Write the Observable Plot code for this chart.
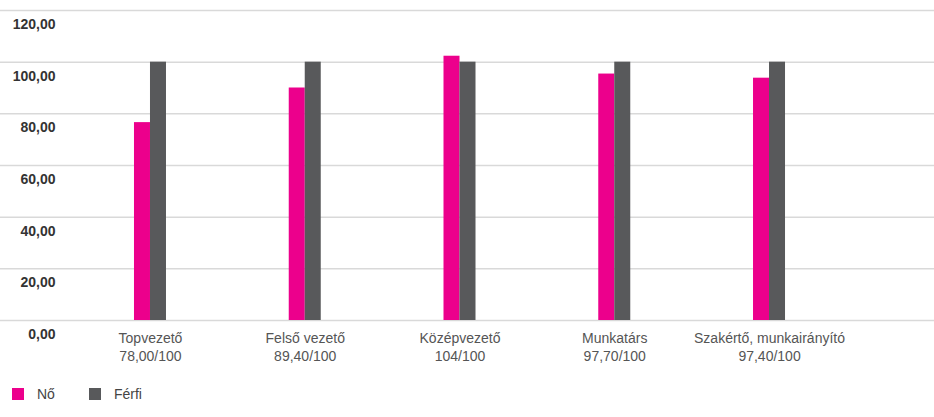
<!DOCTYPE html>
<html>
<head>
<meta charset="utf-8">
<script src="https://cdn.jsdelivr.net/npm/d3@7"></script>
<script src="https://cdn.jsdelivr.net/npm/@observablehq/plot@0.6"></script>
<style>
  html, body { margin: 0; padding: 0; background: #fff; }
  body { width: 934px; height: 417px; overflow: hidden; font-family: "Liberation Sans", Arial, sans-serif; }
  #legend { display: flex; align-items: center; height: 20px; margin-top: 12px; font-size: 14px; color: #444; }
  .sw { display: inline-block; width: 12px; height: 12px; }
  .item { display: flex; align-items: center; }
</style>
</head>
<body>
<div id="chart"></div>
<div id="legend"></div>
<script>
const categories = ["Topvezető", "Felső vezető", "Középvezető", "Munkatárs", "Szakértő, munkairányító"];
const ratioLabels = ["78,00/100", "89,40/100", "104/100", "97,70/100", "97,40/100"];
const noValues = [76.6, 90.0, 102.3, 95.4, 93.8];
const ferfiValues = [100, 100, 100, 100, 100];
const yTicks = [0, 20, 40, 60, 80, 100, 120];
const yTickLabels = ["0,00", "20,00", "40,00", "60,00", "80,00", "100,00", "120,00"];
const seriesNames = ["Nő", "Férfi"];
const seriesColors = ["#EC008C", "#58595B"];

const noData = categories.map((c, i) => ({cat: c, value: noValues[i]}));
const ferfiData = categories.map((c, i) => ({cat: c, value: ferfiValues[i]}));
const labelData = categories.map((c, i) => ({cat: c, text: c + "\n" + ratioLabels[i]}));
const tickData = yTicks.map((t, i) => ({v: t, label: yTickLabels[i]}));

const chart = Plot.plot({
  width: 934,
  height: 372,
  marginTop: 10,
  marginBottom: 52,
  marginLeft: 0,
  marginRight: 0,
  style: {fontFamily: "'Liberation Sans', Arial, sans-serif", background: "#fff"},
  x: {type: "band", domain: categories, range: [72.6, 846.4], paddingInner: 0.8966, paddingOuter: 0.4483, align: 0.5, round: false, axis: null},
  y: {domain: [0, 120], axis: null},
  marks: [
    Plot.ruleY(yTicks, {stroke: "#d9d9d9", strokeWidth: 1.5}),
    Plot.barY(noData, {x: "cat", y: "value", fill: seriesColors[0], dx: -8}),
    Plot.barY(ferfiData, {x: "cat", y: "value", fill: seriesColors[1], dx: 8}),
    Plot.text(tickData, {y: "v", text: "label", frameAnchor: "left", dx: 55, dy: 14, textAnchor: "end", fontSize: 14, fontWeight: "bold", fill: "#333"}),
    Plot.text(labelData, {x: "cat", text: "text", frameAnchor: "bottom", dy: 10, lineAnchor: "top", lineHeight: 1.28, fontSize: 14, fill: "#555", textAnchor: "middle"})
  ]
});
document.getElementById("chart").appendChild(chart);

const legend = document.getElementById("legend");
seriesNames.forEach((name, i) => {
  const item = document.createElement("span");
  item.className = "item";
  item.style.marginLeft = i === 0 ? "12px" : "34px";
  const sw = document.createElement("span");
  sw.className = "sw";
  sw.style.background = seriesColors[i];
  const t = document.createElement("span");
  t.textContent = name;
  t.style.marginLeft = "13px";
  item.appendChild(sw);
  item.appendChild(t);
  legend.appendChild(item);
});
</script>
</body>
</html>
